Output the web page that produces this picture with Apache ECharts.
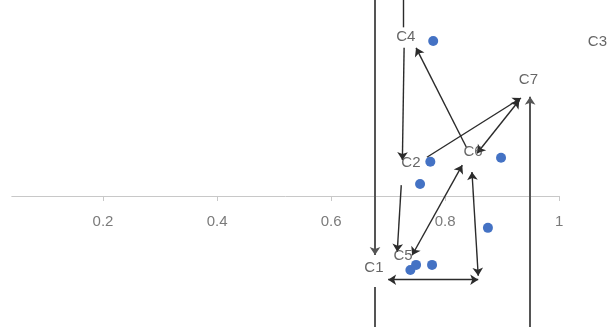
<!DOCTYPE html>
<html><head><meta charset="utf-8">
<script src="https://cdn.jsdelivr.net/npm/echarts@6/dist/echarts.min.js"></script>
<style>html,body{margin:0;padding:0;background:#fff}#c{width:613px;height:327px}</style>
</head><body><div id="c"></div>
<script>
// tick labels on the x axis
const xTicks = [0.2, 0.4, 0.6, 0.8, 1];
// blue data points [x, y]
const pointsX = [0.779, 0.774, 0.756, 0.898, 0.875, 0.739, 0.749, 0.777];
const pointsY = [0.272, 0.060, 0.021, 0.067, -0.056, -0.130, -0.121, -0.121];
// text labels
const labelNames = ['C1', 'C2', 'C3', 'C4', 'C5', 'C6', 'C7'];
const labelX = [0.675, 0.740, 1.067, 0.731, 0.726, 0.849, 0.946];
const labelY = [-0.126, 0.058, 0.270, 0.279, -0.105, 0.077, 0.204];
// connector segments: from / to points, arrow flags, heavy flag
const segFrom = [
  [0.677, 0.344], [0.677, -0.160], [0.726, 0.344], [0.728, 0.260], [0.723, 0.019],
  [0.837, 0.086], [0.768, 0.068], [0.856, 0.075], [0.742, -0.104], [0.858, -0.140],
  [0.700, -0.147], [0.949, -0.230]
];
const segTo = [
  [0.677, -0.1035], [0.677, -0.230], [0.726, 0.296], [0.725, 0.063], [0.716, -0.098],
  [0.749, 0.260], [0.933, 0.172], [0.930, 0.168], [0.830, 0.054], [0.847, 0.042],
  [0.858, -0.147], [0.949, 0.174]
];
const segArrowStart = [0, 0, 0, 0, 0, 0, 0, 1, 1, 1, 1, 0];
const segArrowEnd   = [1, 0, 0, 1, 1, 1, 1, 1, 1, 1, 1, 1];
const segHeavy      = [1, 1, 0, 0, 0, 0, 0, 0, 0, 0, 0, 1];

const chart = echarts.init(document.getElementById('c'));
const lineData = segFrom.map((f, i) => ({
  coords: [f, segTo[i]],
  symbol: [segArrowStart[i] ? 'arrow' : 'none', segArrowEnd[i] ? 'arrow' : 'none'],
  lineStyle: segHeavy[i] ? { width: 2, color: '#555', opacity: 1 } : { width: 1.4, color: '#2b2b2b', opacity: 1 }
}));

chart.setOption({
  animation: false,
  grid: { left: 11.8, right: 53.8, top: 0, bottom: 0, containLabel: false, outerBoundsMode: 'none' },
  xAxis: {
    type: 'value', min: 0.04, max: 1,
    splitLine: { show: false },
    axisLine: { onZero: true, lineStyle: { color: '#c8c8c8', width: 1 } },
    axisTick: { show: true, length: 5, customValues: xTicks, lineStyle: { color: '#c8c8c8' } },
    axisLabel: { show: false }
  },
  yAxis: {
    type: 'value', min: -0.23, max: 0.344, show: false,
    splitLine: { show: false }
  },
  series: [
    {
      type: 'lines', coordinateSystem: 'cartesian2d',
      symbolSize: 8, z: 3,
      lineStyle: { opacity: 1 },
      data: lineData
    },
    {
      type: 'scatter', symbolSize: 10, z: 4,
      itemStyle: { color: '#4472C4', opacity: 1 },
      data: pointsX.map((x, i) => [x, pointsY[i]])
    },
    {
      type: 'scatter', symbolSize: 0, clip: false, z: 5,
      data: labelNames.map((n, i) => ({ name: n, value: [labelX[i], labelY[i]] })),
      label: { show: true, position: 'inside', formatter: '{b}', color: '#404040',
        fontSize: 15, fontFamily: 'Liberation Sans' }
    },
    {
      type: 'scatter', symbolSize: 0, clip: false, z: 5, silent: true,
      data: xTicks.map(t => ({ name: String(t), value: [t, 0] })),
      label: { show: true, position: 'bottom', distance: 18, formatter: '{b}', color: '#595959',
        fontSize: 15, fontFamily: 'Liberation Sans' }
    }
  ]
});
</script></body></html>
